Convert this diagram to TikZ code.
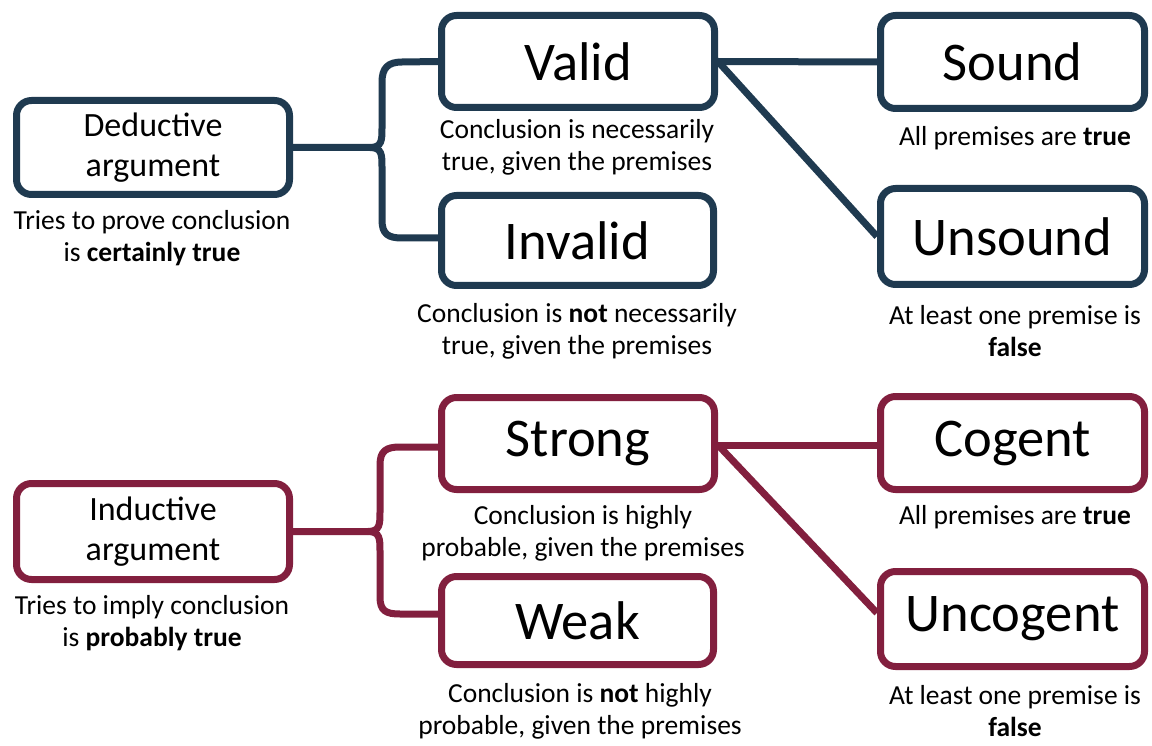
\documentclass[tikz,border=0pt]{standalone}
\usepackage{fontspec}
\setmainfont{Carlito}
\usetikzlibrary{backgrounds}
\definecolor{navy}{RGB}{31,58,80}
\definecolor{maroon}{RGB}{130,31,62}
\tikzset{
  box/.style={draw, line width=7pt, rounded corners=15pt, fill=white, inner sep=0pt, align=center, text=black},
  bigbox/.style={box, minimum width=272pt, minimum height=92pt, font=\fontsize{54.5}{60}\selectfont},
  rootbox/.style={box, minimum width=273pt, minimum height=94pt, font=\fontsize{34}{40}\selectfont},
  captext/.style={inner sep=0pt, align=center, font=\fontsize{27.5}{32}\selectfont},
  dcon/.style={line width=7pt, draw=navy},
  icon/.style={line width=7pt, draw=maroon},
}
\begin{document}
\begin{tikzpicture}[x=1pt,y=-1pt]
\useasboundingbox (0,0) rectangle (1152,746);
% ---------- Deductive ----------
\node[rootbox, draw=navy] (ded) at (153,147.5) {Deductive\\argument};
\node[bigbox, draw=navy, minimum width=273pt] (val) at (578,61.5) {Valid};
\node[bigbox, draw=navy, minimum width=272pt, minimum height=90pt] (inv) at (577.5,240.5) {Invalid};
\node[bigbox, draw=navy, minimum width=264pt, minimum height=93pt] (snd) at (1012.5,62) {Sound};
\node[bigbox, draw=navy, minimum width=264pt, minimum height=96pt] (uns) at (1012.5,236.5) {Unsound};
\node[captext] (dedc) at (152,238) {Tries to prove conclusion\\is \textbf{certainly true}};
\node[captext] (valc) at (577,147) {Conclusion is necessarily\\true, given the premises};
\node[captext] (sndc) at (1015,138) {All premises are \textbf{true}};
\node[captext] (invc) at (577,331) {Conclusion is \textbf{not} necessarily\\true, given the premises};
\node[captext] (unsc) at (1015,331.5) {At least one premise is\\\textbf{false}};
\begin{scope}[on background layer]
\draw[dcon] (ded.east) -- (370,147.5) .. controls (382,147.5) and (382,140) .. (382,128)
  -- (382,82) .. controls (382,68) and (388,62) .. (402,62) -- (val.west);
\draw[dcon] (370,147.5) .. controls (382,147.5) and (382,155) .. (382,167)
  -- (382,220) .. controls (382,234) and (388,238) .. (402,238) -- (inv.west |- 0,238);
\draw[dcon] (val.east) -- (snd.west);
\draw[dcon] (val.east) -- (uns.west);
\end{scope}
% ---------- Inductive ----------
\node[rootbox, draw=maroon, minimum height=96pt] (ind) at (153,531.5) {Inductive\\argument};
\node[bigbox, draw=maroon, minimum width=273pt] (str) at (578,443.5) {Strong};
\node[bigbox, draw=maroon, minimum width=272pt, minimum height=88pt] (wek) at (577.5,620.5) {Weak};
\node[bigbox, draw=maroon, minimum width=264pt, minimum height=93pt] (cog) at (1012.5,443) {Cogent};
\node[bigbox, draw=maroon, minimum width=264pt, minimum height=95pt] (unc) at (1012.5,619) {Uncogent};
\node[captext] (indc) at (152,623) {Tries to imply conclusion\\is \textbf{probably true}};
\node[captext] (strc) at (583,533) {Conclusion is highly\\probable, given the premises};
\node[captext] (cogc) at (1015,517) {All premises are \textbf{true}};
\node[captext] (wekc) at (580,711) {Conclusion is \textbf{not} highly\\probable, given the premises};
\node[captext] (uncc) at (1015,711.5) {At least one premise is\\\textbf{false}};
\begin{scope}[on background layer]
\draw[icon] (ind.east) -- (368,531.5) .. controls (380,531.5) and (380,524) .. (380,512)
  -- (380,465) .. controls (380,451) and (386,447) .. (400,447) -- (str.west |- 0,447);
\draw[icon] (368,531.5) .. controls (380,531.5) and (380,539) .. (380,551)
  -- (380,597) .. controls (380,611) and (386,614) .. (400,614) -- (wek.west |- 0,614);
\draw[icon] (str.east |- 0,445) -- (cog.west |- 0,445);
\draw[icon] (str.east |- 0,445) -- (unc.west |- 0,613);
\end{scope}
\end{tikzpicture}
\end{document}
